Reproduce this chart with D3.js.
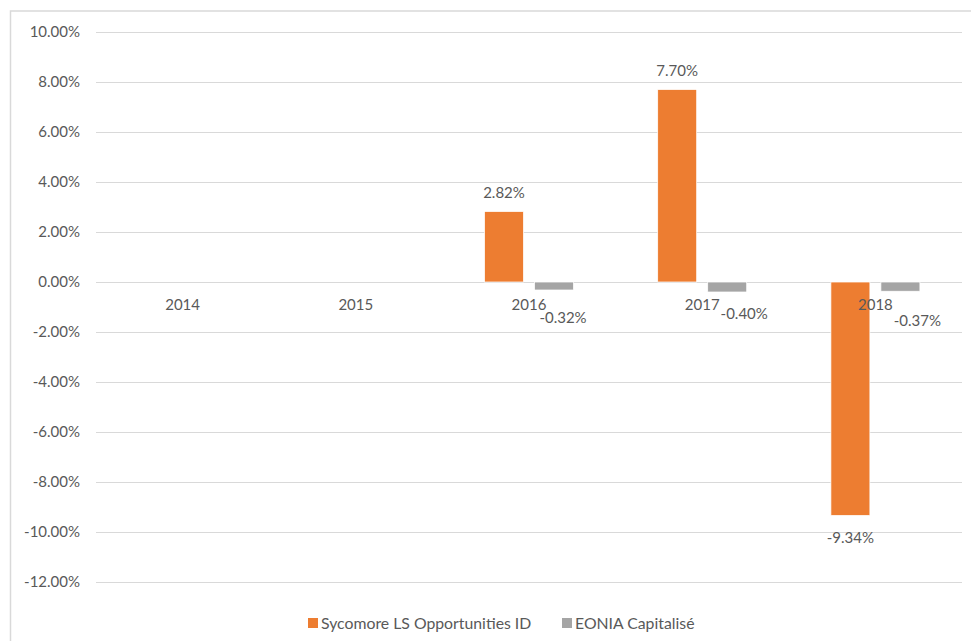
<!DOCTYPE html>
<html>
<head>
  <meta charset='utf-8'>
  <title>Sycomore LS Opportunities ID</title>
  <script src='https://cdn.jsdelivr.net/npm/d3@7'></script>
  <style>
    body { margin: 0; background: #fff; }
  </style>
</head>
<body>
  <script>
    // values (percent)
    const years = ['2014', '2015', '2016', '2017', '2018'];
    const sycomore = [null, null, 2.82, 7.70, -9.34];
    const eonia = [null, null, -0.32, -0.40, -0.37];
    const seriesNames = ['Sycomore LS Opportunities ID', 'EONIA Capitalisé'];
    const yTicks = [10, 8, 6, 4, 2, 0, -2, -4, -6, -8, -10, -12];

    const colors = ['#ED7D31', '#A5A5A5'];
    // labels of the grey series were dragged a bit in the original, keep that
    const eoniaLabelShift = [[0, 0], [0, 0], [9, 28], [17, 22], [17, 29]];

    const width = 971, height = 641;
    const margin = { top: 32, right: 9, bottom: 59, left: 96 };
    const font = 'Lato, "Open Sans", sans-serif';
    const textColor = '#595959';

    // plain hyphen for negatives, like Excel
    const pct = d3.formatLocale({ decimal: '.', thousands: ',', grouping: [3], currency: ['', ''], minus: '-' })
      .format('.2f');
    const fmt = v => pct(v) + '%';

    const svg = d3.select('body').append('svg')
      .attr('width', width)
      .attr('height', height);

    // chart frame, runs off the right and bottom edge like in the picture
    svg.append('rect')
      .attr('x', 10.5).attr('y', 11)
      .attr('width', width + 20).attr('height', height + 20)
      .attr('fill', 'none')
      .attr('stroke', '#d9d9d9')
      .attr('stroke-width', 1.5);

    const y = d3.scaleLinear()
      .domain([-12, 10])
      .range([height - margin.bottom, margin.top]);

    const x0 = d3.scaleBand()
      .domain(years)
      .range([margin.left, width - margin.right])
      .paddingInner(0.486)
      .paddingOuter(0.243);

    const x1 = d3.scaleBand()
      .domain([0, 1])
      .range([0, x0.bandwidth()])
      .paddingInner(0.22);

    // gridlines
    svg.append('g')
      .selectAll('line')
      .data(yTicks)
      .join('line')
      .attr('x1', margin.left)
      .attr('x2', width - margin.right)
      .attr('y1', d => Math.round(y(d)) + 0.5)
      .attr('y2', d => Math.round(y(d)) + 0.5)
      .attr('stroke', '#d9d9d9')
      .attr('stroke-width', 1);

    // y axis labels
    svg.append('g')
      .attr('font-family', font)
      .attr('font-size', 15)
      .attr('fill', textColor)
      .attr('text-anchor', 'end')
      .selectAll('text')
      .data(yTicks)
      .join('text')
      .attr('x', 80)
      .attr('y', d => y(d))
      .attr('dy', '0.35em')
      .text(fmt);

    const series = [sycomore, eonia];
    const bars = [];
    series.forEach((vals, si) => {
      vals.forEach((v, i) => {
        if (v !== null) bars.push({ si, i, v, year: years[i] });
      });
    });

    // bars
    svg.append('g')
      .selectAll('rect')
      .data(bars)
      .join('rect')
      .attr('x', d => x0(d.year) + x1(d.si))
      .attr('width', x1.bandwidth())
      .attr('y', d => y(Math.max(0, d.v)))
      .attr('height', d => Math.abs(y(d.v) - y(0)))
      .attr('fill', d => colors[d.si])
      .attr('stroke', '#fff')
      .attr('stroke-width', 0.75);

    // category labels, sitting just under the zero line
    svg.append('g')
      .attr('font-family', font)
      .attr('font-size', 15)
      .attr('fill', textColor)
      .attr('text-anchor', 'middle')
      .selectAll('text')
      .data(years)
      .join('text')
      .attr('x', d => x0(d) + x0.bandwidth() / 2)
      .attr('y', y(0) + 23)
      .attr('dy', '0.35em')
      .text(d => d);

    // data labels
    svg.append('g')
      .attr('font-family', font)
      .attr('font-size', 15)
      .attr('fill', textColor)
      .attr('text-anchor', 'middle')
      .selectAll('text')
      .data(bars)
      .join('text')
      .attr('x', d => {
        const cx = x0(d.year) + x1(d.si) + x1.bandwidth() / 2;
        return d.si === 1 ? cx + eoniaLabelShift[d.i][0] : cx;
      })
      .attr('y', d => {
        if (d.si === 1) return y(d.v) + eoniaLabelShift[d.i][1];
        return d.v >= 0 ? y(d.v) - 18.5 : y(d.v) + 22;
      })
      .attr('dy', '0.35em')
      .text(d => fmt(d.v));

    // legend
    const legend = svg.append('g')
      .attr('font-family', font)
      .attr('font-size', 15.8)
      .attr('fill', textColor);
    const legendX = [308, 562];
    seriesNames.forEach((name, i) => {
      legend.append('rect')
        .attr('x', legendX[i])
        .attr('y', 618)
        .attr('width', 10)
        .attr('height', 10)
        .attr('fill', colors[i]);
      legend.append('text')
        .attr('x', legendX[i] + 13)
        .attr('y', 623)
        .attr('dy', '0.35em')
        .text(name);
    });
  </script>
</body>
</html>
